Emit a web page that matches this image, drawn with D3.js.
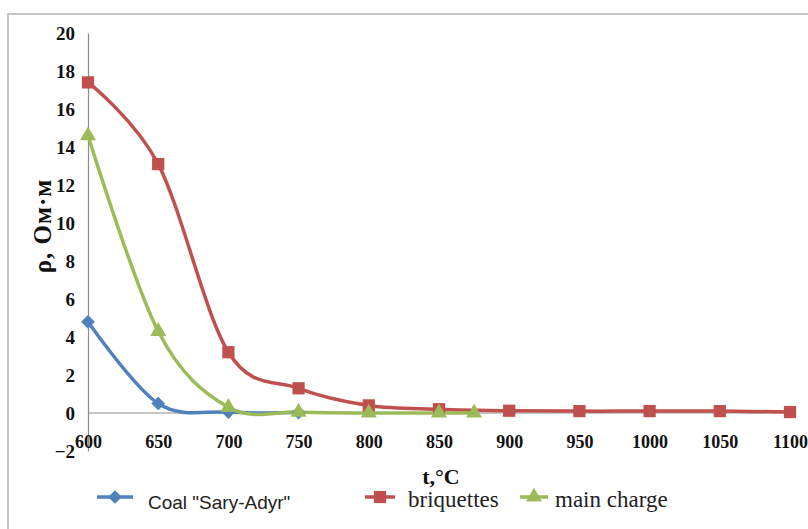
<!DOCTYPE html>
<html>
<head>
<meta charset="utf-8">
<script src="https://cdn.jsdelivr.net/npm/d3@7"></script>
<style>
  html, body { margin: 0; padding: 0; background: #fff; }
  svg { display: block; }
</style>
</head>
<body>
<svg id="chart" width="808" height="529"></svg>
<script>
// Temperature (°C) and resistivity (Ом·м) readings for each material
const coalTemps = [600, 650, 700, 750];
const coalValues = [4.8, 0.5, 0.05, 0.02];

const briqTemps = [600, 650, 700, 750, 800, 850, 900, 950, 1000, 1050, 1100];
const briqValues = [17.4, 13.1, 3.2, 1.3, 0.4, 0.2, 0.12, 0.1, 0.1, 0.1, 0.05];

const chargeTemps = [600, 650, 700, 750, 800, 850, 875];
const chargeValues = [14.6, 4.3, 0.3, 0.05, 0.0, 0.0, 0.0];

const xTicks = [600, 650, 700, 750, 800, 850, 900, 950, 1000, 1050, 1100];
const yTicks = [-2, 0, 2, 4, 6, 8, 10, 12, 14, 16, 18, 20];

const seriesNames = ['Coal "Sary-Adyr"', 'briquettes', 'main charge'];
const seriesColors = ['#4F81BD', '#C0504D', '#9BBB59'];

const series = [
  { name: seriesNames[0], color: seriesColors[0], marker: 'diamond',
    pts: coalTemps.map((t, i) => ({ t, v: coalValues[i] })) },
  { name: seriesNames[1], color: seriesColors[1], marker: 'square',
    pts: briqTemps.map((t, i) => ({ t, v: briqValues[i] })) },
  { name: seriesNames[2], color: seriesColors[2], marker: 'triangle',
    pts: chargeTemps.map((t, i) => ({ t, v: chargeValues[i] })) }
];

const svg = d3.select('#chart');

// outer frame (top and left edges)
svg.append('path')
  .attr('d', 'M8,529 L8,14 L808,14')
  .attr('fill', 'none')
  .attr('stroke', '#c4c4c4')
  .attr('stroke-width', 2);

const x = d3.scaleLinear().domain([600, 1100]).range([88, 790]);
const y = d3.scaleLinear().domain([-2, 20]).range([451, 33]);

const serif = '"Liberation Serif", "Times New Roman", serif';
const sans = '"Liberation Sans", Arial, sans-serif';

// y axis
const yAxis = svg.append('g')
  .attr('transform', `translate(${x(600)},0)`)
  .call(d3.axisLeft(y).tickValues(yTicks).tickSize(0).tickPadding(13).tickFormat(d3.format('d')));
yAxis.select('.domain').attr('stroke', '#8c8c8c').attr('stroke-width', 1.2);
yAxis.selectAll('text')
  .attr('font-family', serif).attr('font-weight', 'bold')
  .attr('font-size', 19).attr('fill', '#111');

// x axis drawn along the zero line, labels below the plot
svg.append('line')
  .attr('x1', x(600)).attr('x2', x(1100))
  .attr('y1', y(0)).attr('y2', y(0))
  .attr('stroke', '#8c8c8c').attr('stroke-width', 1.2);

const xAxis = svg.append('g')
  .attr('transform', `translate(0,${y(-2)})`)
  .call(d3.axisBottom(x).tickValues(xTicks).tickSize(0).tickPadding(-16).tickFormat(d3.format('d')));
xAxis.select('.domain').remove();
xAxis.selectAll('text')
  .attr('font-family', serif).attr('font-weight', 'bold')
  .attr('font-size', 18).attr('fill', '#111');

// axis titles
svg.append('text')
  .attr('transform', `translate(51,226) rotate(-90)`)
  .attr('text-anchor', 'middle')
  .attr('font-family', serif).attr('font-weight', 'bold')
  .attr('font-size', 25).attr('letter-spacing', 1)
  .attr('fill', '#111')
  .text('ρ, Ом·м');

svg.append('text')
  .attr('x', 441).attr('y', 484)
  .attr('text-anchor', 'middle')
  .attr('font-family', serif).attr('font-weight', 'bold')
  .attr('font-size', 22).attr('fill', '#111')
  .text('t,°C');

// marker shapes
const symbolFor = {
  diamond: d3.symbol().type(d3.symbolDiamond2).size(120),
  square: d3.symbol().type(d3.symbolSquare).size(150),
  triangle: d3.symbol().type(d3.symbolTriangle).size(110)
};

const line = d3.line()
  .x(d => x(d.t))
  .y(d => y(d.v))
  .curve(d3.curveCardinal.tension(0));

series.forEach(s => {
  svg.append('path')
    .datum(s.pts)
    .attr('d', line)
    .attr('fill', 'none')
    .attr('stroke', s.color)
    .attr('stroke-width', 3.5)
    .attr('stroke-linejoin', 'round');
});

series.forEach(s => {
  svg.append('g').selectAll('path')
    .data(s.pts)
    .join('path')
    .attr('transform', d => `translate(${x(d.t)},${y(d.v)})`)
    .attr('d', symbolFor[s.marker])
    .attr('fill', s.color);
});

// legend
const legend = [
  { s: series[0], x0: 97, x1: 133, tx: 148, font: sans, size: 19, baseline: 509 },
  { s: series[1], x0: 365, x1: 395, tx: 408, font: serif, size: 23, baseline: 507 },
  { s: series[2], x0: 520, x1: 548, tx: 555, font: serif, size: 23, baseline: 507 }
];
legend.forEach(l => {
  const g = svg.append('g');
  g.append('line')
    .attr('x1', l.x0).attr('x2', l.x1)
    .attr('y1', 497).attr('y2', 497)
    .attr('stroke', l.s.color).attr('stroke-width', 3.5);
  g.append('path')
    .attr('transform', `translate(${(l.x0 + l.x1) / 2},497)`)
    .attr('d', symbolFor[l.s.marker])
    .attr('fill', l.s.color);
  g.append('text')
    .attr('x', l.tx).attr('y', l.baseline)
    .attr('font-family', l.font).attr('font-size', l.size)
    .attr('fill', '#222')
    .text(l.s.name);
});
</script>
</body>
</html>
